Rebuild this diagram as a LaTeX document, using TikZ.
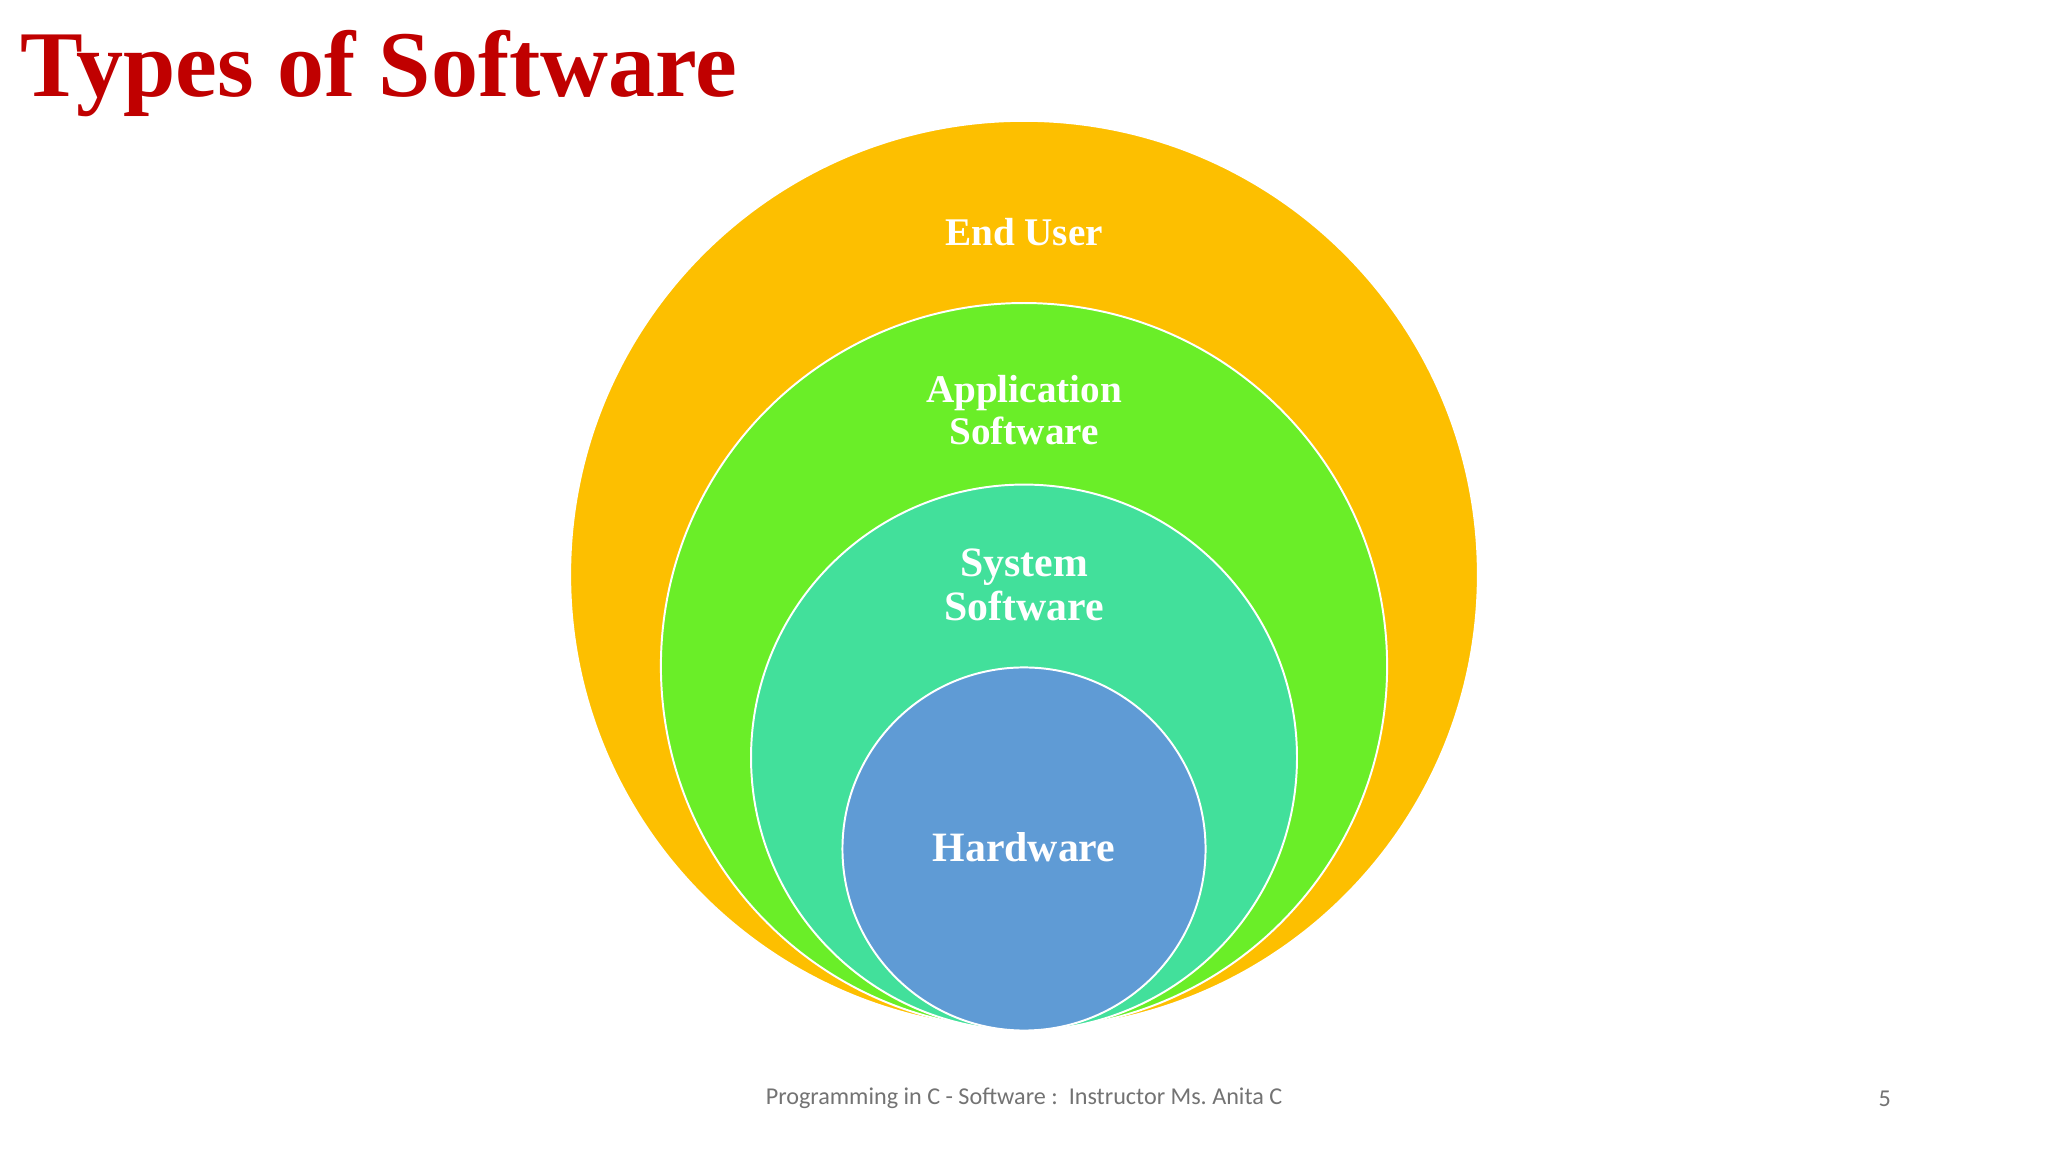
\documentclass[tikz,border=0pt]{standalone}
\usepackage{fontspec}
\setmainfont{Liberation Serif}
\newfontfamily\footfont{Carlito}
\definecolor{cOrange}{HTML}{FDBF00}
\definecolor{cGreen}{HTML}{6AEE28}
\definecolor{cTeal}{HTML}{42E09B}
\definecolor{cBlue}{HTML}{5F9BD5}
\definecolor{cTitle}{HTML}{C00000}
\begin{document}
\begin{tikzpicture}[x=1pt,y=-1pt,
  ring/.style={circle,draw=white,line width=1.5pt,inner sep=0pt},
  lbl/.style={text=white,font=\fontsize{30}{32}\selectfont\bfseries,align=center}]
\useasboundingbox (0,0) rectangle (1568,882);
\fill[white] (0,0) rectangle (1568,882);
\node[ring,fill=cOrange,minimum size=695pt] (eu) at (784,440) {};
\node[ring,fill=cGreen,minimum size=556pt] (ap) at (784,510) {};
\node[ring,fill=cTeal,minimum size=418pt] (sy) at (784,580) {};
\node[ring,fill=cBlue,minimum size=278pt] (hw) at (784,650) {};
\node[lbl] (teu) at (784,178) {End User};
\node[lbl,font=\fontsize{30}{32}\selectfont\bfseries] (tap) at (784,314) {Application\\Software};
\node[lbl,font=\fontsize{32}{34}\selectfont\bfseries] (tsy) at (784,448) {System\\Software};
\node[lbl,font=\fontsize{32}{34}\selectfont\bfseries] (thw) at (784,649) {Hardware};
\node[anchor=west,text=cTitle,font=\fontsize{72}{76}\selectfont\bfseries] (title) at (12,56) {Types of Software};
\node[text=black!55,font=\footfont\fontsize{18.5}{20}\selectfont] (foot) at (784,841) {Programming in C - Software :\ \ Instructor Ms.\ Anita C};
\node[text=black!55,font=\footfont\fontsize{18.5}{20}\selectfont] (pg) at (1443,841) {5};
\end{tikzpicture}
\end{document}
